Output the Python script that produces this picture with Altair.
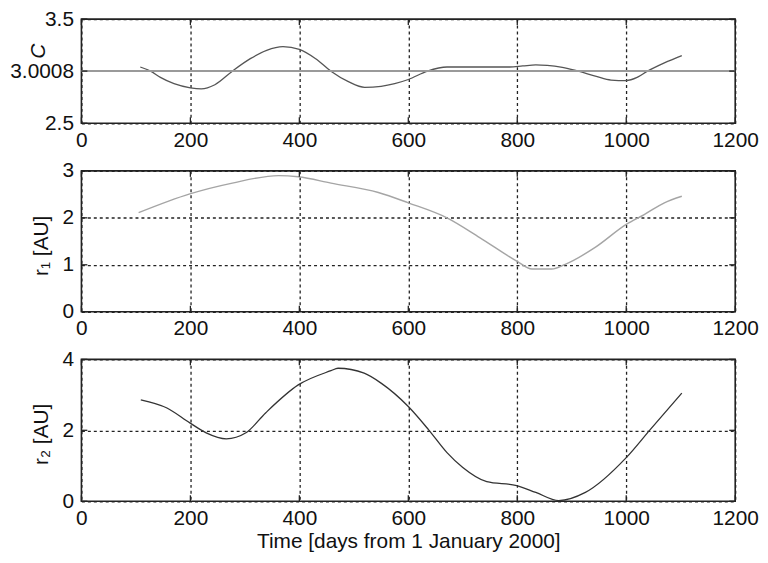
import altair as alt
import pandas as pd

FONT = "Liberation Sans"
FS = 21

# ---- data ----
c_days = [108, 127, 145, 170, 200, 220, 245, 277, 310, 340, 370, 400, 430, 458, 490, 520,
          550, 575, 600, 635, 671, 720, 786, 810, 834, 855, 880, 912, 945, 972, 1000, 1020,
          1039, 1070, 1102]
c_vals = [3.04, 3.00, 2.94, 2.88, 2.84, 2.83, 2.87, 3.00, 3.12, 3.20, 3.235, 3.21, 3.12, 3.00,
          2.90, 2.845, 2.855, 2.88, 2.92, 3.00, 3.04, 3.04, 3.04, 3.05, 3.06, 3.055, 3.04, 3.00,
          2.95, 2.915, 2.91, 2.94, 3.00, 3.08, 3.15]
c_ref = 3.0008

r1_days = [105, 199, 277, 362, 398, 458, 545, 600, 671, 731, 799, 827, 863, 888, 943, 1000,
           1033, 1070, 1102]
r1_vals = [2.11, 2.51, 2.74, 2.90, 2.875, 2.74, 2.54, 2.32, 2.00, 1.58, 1.08, 0.91, 0.91, 1.01,
           1.37, 1.86, 2.07, 2.32, 2.46]

r2_days = [109, 157, 199, 229, 266, 302, 338, 398, 458, 471, 519, 550, 600, 637, 671, 700, 744,
           799, 834, 876, 925, 1000, 1044, 1102]
r2_vals = [2.86, 2.63, 2.21, 1.93, 1.76, 1.93, 2.49, 3.28, 3.68, 3.75, 3.61, 3.33, 2.67, 2.02,
           1.37, 0.95, 0.55, 0.44, 0.25, 0.02, 0.25, 1.23, 2.02, 3.05]

x_ticks = [0, 200, 400, 600, 800, 1000, 1200]
c_ticks = [2.5, 3.0008, 3.5]
r1_ticks = [0, 1, 2, 3]
r2_ticks = [0, 2, 4]

W = 659
TICK = 6
INK = "#222"
GRID = dict(grid=True, gridDash=[3, 3], gridColor=INK, gridWidth=1.3, gridOpacity=1,
            domain=False, ticks=False, labelFontSize=FS, labelFont=FONT, labelColor="#111",
            labelOverlap=False, labelFlush=False)

XSCALE = alt.Scale(domain=[0, 1200], nice=False, zero=False)


def x_enc(title=None):
    ax = alt.Axis(values=x_ticks, labelPadding=6, format="d",
                  titleFont=FONT, titleFontSize=FS, titleFontWeight="normal",
                  titleColor="#111", titlePadding=3, title=title, **GRID)
    return alt.X("day:Q", scale=XSCALE, axis=ax)


def y_axis(values, title, fmt, title_y, italic=False, title_x=-40):
    extra = {"titleFontStyle": "italic"} if italic else {}
    return alt.Axis(values=values, title=title, format=fmt, labelPadding=8,
                    titleFont=FONT, titleFontSize=FS, titleFontWeight="normal",
                    titleColor="#111", titleAngle=270, titleBaseline="middle",
                    titleX=title_x, titleY=title_y, **extra, **GRID)


def inward_ticks(yticks, yscale, h):
    """Short inward tick marks on all four sides of the frame (MATLAB style)."""
    dx = pd.DataFrame({"day": x_ticks})
    dy = pd.DataFrame({"v": yticks})
    xs = alt.X("day:Q", scale=XSCALE)
    ys = alt.Y("v:Q", scale=yscale)
    bottom = alt.Chart(dx).mark_rule(color=INK, strokeWidth=1.3).encode(
        x=xs, y=alt.value(h), y2=alt.value(h - TICK))
    top = alt.Chart(dx).mark_rule(color=INK, strokeWidth=1.3).encode(
        x=xs, y=alt.value(0), y2=alt.value(TICK))
    left = alt.Chart(dy).mark_rule(color=INK, strokeWidth=1.3).encode(
        y=ys, x=alt.value(0), x2=alt.value(TICK))
    right = alt.Chart(dy).mark_rule(color=INK, strokeWidth=1.3).encode(
        y=ys, x=alt.value(W), x2=alt.value(W - TICK))
    return [bottom, top, left, right]


df_c = pd.DataFrame({"day": c_days, "v": c_vals})
df_r1 = pd.DataFrame({"day": r1_days, "v": r1_vals})
df_r2 = pd.DataFrame({"day": r2_days, "v": r2_vals})
df_ref = pd.DataFrame({"v": [c_ref]})

# panel 1: C
H1 = 105
sc_c = alt.Scale(domain=[2.5, 3.5], nice=False, zero=False)
yc = alt.Y("v:Q", scale=sc_c,
           axis=y_axis(c_ticks, "C", ".4~f", 32, italic=True, title_x=-43))
p1_line = alt.Chart(df_c).mark_line(color="#555", strokeWidth=1.3,
                                    interpolate="monotone").encode(x=x_enc(), y=yc)
p1_ref = alt.Chart(df_ref).mark_rule(color="#9a9a9a", strokeWidth=2).encode(y="v:Q")
p1 = alt.layer(p1_line, p1_ref, *inward_ticks(c_ticks, sc_c, H1)).properties(width=W, height=H1)

# panel 2: r1
H2 = 142
sc_1 = alt.Scale(domain=[0, 3], nice=False, zero=False)
y1 = alt.Y("v:Q", scale=sc_1, axis=y_axis(r1_ticks, "r\u2081 [AU]", "d", 75))
p2_line = alt.Chart(df_r1).mark_line(color="#a5a5a5", strokeWidth=1.4,
                                     interpolate="monotone").encode(x=x_enc(), y=y1)
p2 = alt.layer(p2_line, *inward_ticks(r1_ticks, sc_1, H2)).properties(width=W, height=H2)

# panel 3: r2
H3 = 143
sc_2 = alt.Scale(domain=[0, 4], nice=False, zero=False)
y2 = alt.Y("v:Q", scale=sc_2, axis=y_axis(r2_ticks, "r\u2082 [AU]", "d", 75))
p3_line = alt.Chart(df_r2).mark_line(color="#333", strokeWidth=1.3,
                                     interpolate="monotone").encode(
    x=x_enc("Time [days from 1 January 2000]"), y=y2)
p3 = alt.layer(p3_line, *inward_ticks(r2_ticks, sc_2, H3)).properties(width=W, height=H3)

chart = alt.vconcat(p1, p2, p3, spacing=48, bounds="flush").properties(
    padding={"left": 0, "top": -3, "right": 0, "bottom": 0}
).configure_view(stroke=INK, strokeWidth=1.6)

chart.save("out.html", embed_options={"renderer": "svg", "actions": False})
